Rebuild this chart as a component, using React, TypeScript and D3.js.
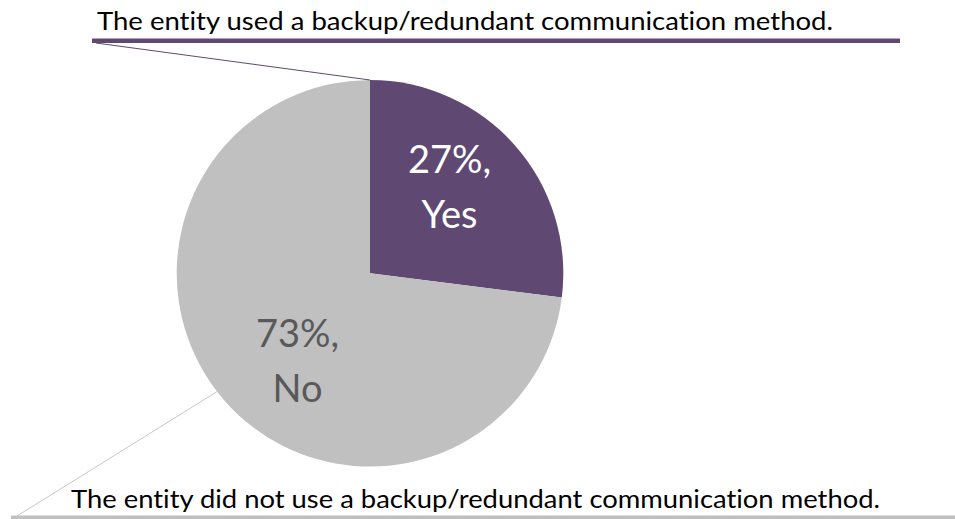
import React from "react";
import * as d3 from "d3";

const categories = ["Yes", "No"];
const values = [27, 73];
const labelLines = [["27%,", "Yes"], ["73%,", "No"]];
const callouts = [
  "The entity used a backup/redundant communication method.",
  "The entity did not use a backup/redundant communication method.",
];
const colors = ["#5F4872", "#C0C0C0"];
const labelColors = ["#FFFFFF", "#595959"];

const W = 955;
const H = 519;
const cx = 370;
const cy = 273.3;
const R = 193.3;
const FONT = "Lato, 'Open Sans', sans-serif";

export default function App() {
  const pie = d3.pie<number>().sort(null).value((d) => d)(values);
  const arc = d3.arc<d3.PieArcDatum<number>>().innerRadius(0).outerRadius(R);
  const labelArc = d3.arc<d3.PieArcDatum<number>>().innerRadius(236).outerRadius(0);
  const nudge = [
    [-9, -8],
    [16, 10],
  ];

  const pt = (a: number, r: number) => [cx + r * Math.sin(a), cy - r * Math.cos(a)];
  const [yx, yy] = pt(pie[0].startAngle, R);
  const [nx, ny] = pt(pie[1].startAngle + (pie[1].endAngle - pie[1].startAngle) * 0.514, R);

  const textStyle = { fontVariantLigatures: "none" } as React.CSSProperties;

  return (
    <svg
      width={W}
      height={H}
      style={{ position: "absolute", left: 0, top: 0, background: "#fff" }}
    >
      <g transform={`translate(${cx},${cy})`}>
        {pie.map((p, i) => (
          <path key={categories[i]} d={arc(p) || ""} fill={colors[i]} />
        ))}
        {pie.map((p, i) => {
          const [lx, ly] = labelArc.centroid(p);
          return (
            <text
              key={"l" + i}
              x={lx + nudge[i][0]}
              y={ly + nudge[i][1]}
              fill={labelColors[i]}
              fontFamily={FONT}
              fontSize={38}
              textAnchor="middle"
              style={textStyle}
            >
              <tspan x={lx + nudge[i][0]} dy={-14}>
                {labelLines[i][0]}
              </tspan>
              <tspan x={lx + nudge[i][0]} dy={55}>
                {labelLines[i][1]}
              </tspan>
            </text>
          );
        })}
      </g>

      {/* Top callout */}
      <line x1={96} y1={43} x2={yx} y2={yy} stroke={colors[0]} strokeWidth={1} />
      <line x1={92} y1={40.8} x2={900} y2={40.8} stroke={colors[0]} strokeWidth={4.5} />
      <text
        x={97}
        y={30}
        fontFamily={FONT}
        fontSize={25}
        fill="#000"
        textLength={736}
        lengthAdjust="spacingAndGlyphs"
        style={textStyle}
      >
        {callouts[0]}
      </text>

      {/* Bottom callout */}
      <line x1={17} y1={516} x2={nx} y2={ny} stroke="#C8C8C8" strokeWidth={1} />
      <line x1={11} y1={517.5} x2={955} y2={517.5} stroke="#C0C0C0" strokeWidth={4} />
      <text
        x={71}
        y={508}
        fontFamily={FONT}
        fontSize={25}
        fill="#000"
        textLength={809}
        lengthAdjust="spacingAndGlyphs"
        style={textStyle}
      >
        {callouts[1]}
      </text>
    </svg>
  );
}
